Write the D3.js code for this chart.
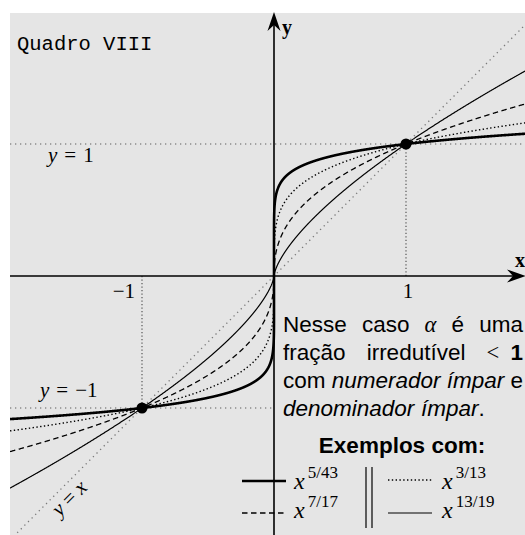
<!DOCTYPE html>
<html>
<head>
<meta charset="utf-8">
<script src="https://cdn.jsdelivr.net/npm/d3@7"></script>
<style>
  html, body { margin: 0; padding: 0; background: #ffffff; }
  svg { display: block; }
</style>
</head>
<body>
<svg id="chart" width="525" height="535"></svg>
<script>
// Odd roots x^(p/q) with p, q odd and p/q < 1
const numerators   = [5, 7, 3, 13];
const denominators = [43, 17, 13, 19];
const seriesStyle  = ["thick", "dashed", "dotted", "thin"];
const tickValues   = [-1, 1];
const tickLabels   = ["\u22121", "1"];
const guideLevels  = [1, -1];

const svg = d3.select("#chart");

// panel
const panel = { x0: 10, y0: 13, x1: 525, y1: 535 };
svg.append("rect")
  .attr("x", panel.x0).attr("y", panel.y0)
  .attr("width", panel.x1 - panel.x0).attr("height", panel.y1 - panel.y0)
  .attr("fill", "#e5e5e5");

svg.append("clipPath").attr("id", "clip")
  .append("rect")
  .attr("x", panel.x0).attr("y", panel.y0)
  .attr("width", panel.x1 - panel.x0).attr("height", panel.y1 - panel.y0);

const unit = 132;
const x = d3.scaleLinear().domain([-2, 2]).range([274 - 2 * unit, 274 + 2 * unit]);
const y = d3.scaleLinear().domain([-2, 2]).range([276 + 2 * unit, 276 - 2 * unit]);

const g = svg.append("g").attr("clip-path", "url(#clip)");

// guide lines
const guideColor = "#8a8a8a";
g.append("line")
  .attr("x1", x(-2)).attr("x2", x(2))
  .attr("y1", y(guideLevels[0])).attr("y2", y(guideLevels[0]))
  .attr("stroke", guideColor).attr("stroke-width", 1.3)
  .attr("stroke-dasharray", "1.3,3.7");
g.append("line")
  .attr("x1", x(-2)).attr("x2", x(0))
  .attr("y1", y(guideLevels[1])).attr("y2", y(guideLevels[1]))
  .attr("stroke", guideColor).attr("stroke-width", 1.3)
  .attr("stroke-dasharray", "1.3,3.7");
tickValues.forEach(v => {
  g.append("line")
    .attr("x1", x(v)).attr("x2", x(v))
    .attr("y1", y(0)).attr("y2", y(v))
    .attr("stroke", "#555").attr("stroke-width", 1.2)
    .attr("stroke-dasharray", "1.2,2.3");
});

// y = x
g.append("line")
  .attr("x1", x(-2)).attr("y1", y(-2))
  .attr("x2", x(2)).attr("y2", y(2))
  .attr("stroke", "#7a7a7a").attr("stroke-width", 1.3)
  .attr("stroke-dasharray", "1.3,3.8");

// sampled abscissae, dense near the origin
const uSteps = d3.range(0, 1.00001, 0.0004);
const xs = [];
uSteps.slice().reverse().forEach(u => xs.push(-2 * Math.pow(u, 6)));
uSteps.forEach(u => { if (u > 0) xs.push(2 * Math.pow(u, 6)); });

const oddRoot = (v, a) => Math.sign(v) * Math.pow(Math.abs(v), a);
const line = d3.line().x(d => x(d[0])).y(d => y(d[1]));

const styles = {
  thick:  { w: 2.6, dash: null },
  dashed: { w: 1.3, dash: "5.5,3.5" },
  dotted: { w: 1.4, dash: "1.4,2.4" },
  thin:   { w: 1.2, dash: null }
};

numerators.forEach((p, i) => {
  const a = p / denominators[i];
  const pts = xs.map(v => [v, oddRoot(v, a)]);
  const s = styles[seriesStyle[i]];
  g.append("path")
    .attr("d", line(pts))
    .attr("fill", "none")
    .attr("stroke", "#000")
    .attr("stroke-width", s.w)
    .attr("stroke-dasharray", s.dash);
});

// axes
const ax = svg.append("g");
ax.append("line")
  .attr("x1", panel.x0).attr("x2", 515)
  .attr("y1", y(0)).attr("y2", y(0))
  .attr("stroke", "#000").attr("stroke-width", 1.6);
ax.append("line")
  .attr("x1", x(0)).attr("x2", x(0))
  .attr("y1", panel.y1).attr("y2", 22)
  .attr("stroke", "#000").attr("stroke-width", 1.6);

// stealth arrowheads
function arrow(tx, ty, angle) {
  const L = 19, Wd = 6.5, back = 6;
  const path = `M0,0 L${-L},${-Wd} L${-L + back},0 L${-L},${Wd} Z`;
  ax.append("path")
    .attr("d", path)
    .attr("transform", `translate(${tx},${ty}) rotate(${angle})`)
    .attr("fill", "#000");
}
arrow(x(0), 12, -90);
arrow(526, y(0), 0);

// axis names
svg.append("text").attr("x", 282).attr("y", 34)
  .attr("font-family", "Liberation Serif").attr("font-weight", "bold")
  .attr("font-size", 20).text("y");
svg.append("text").attr("x", 515).attr("y", 267)
  .attr("font-family", "Liberation Serif").attr("font-weight", "bold")
  .attr("font-size", 20).text("x");

// tick labels
tickValues.forEach((v, i) => {
  svg.append("text")
    .attr("x", v < 0 ? x(v) - 7 : x(v) + 2)
    .attr("y", 298)
    .attr("text-anchor", v < 0 ? "end" : "middle")
    .attr("font-family", "Liberation Serif").attr("font-size", 21)
    .text(tickLabels[i]);
});

// intersection points
tickValues.forEach(v => {
  svg.append("circle").attr("cx", x(v)).attr("cy", y(v)).attr("r", 5.5).attr("fill", "#000");
});

// guide labels (math style, relation symbols with wide spacing)
function mathLabel(px, py, parts, size) {
  const t = svg.append("text").attr("x", px).attr("y", py)
    .attr("font-family", "Liberation Serif").attr("font-size", size);
  parts.forEach(pt => {
    const s = t.append("tspan").attr("font-style", pt.i ? "italic" : "normal").text(pt.t);
    if (pt.dx) s.attr("dx", pt.dx);
  });
  return t;
}
mathLabel(48, 162, [{ t: "y", i: true }, { t: "=", dx: 7 }, { t: "1", dx: 7 }], 21);
mathLabel(40, 397, [{ t: "y", i: true }, { t: "=", dx: 7 }, { t: "\u22121", dx: 7 }], 21);
mathLabel(0, 0, [{ t: "y", i: true }, { t: "=", dx: 5 }, { t: "x", i: true, dx: 5 }], 21)
  .attr("text-anchor", "middle")
  .attr("transform", "translate(74,503) rotate(-45)");

// title
svg.append("text").attr("x", 17).attr("y", 50)
  .attr("font-family", "Liberation Mono").attr("font-size", 20.5)
  .text("Quadro VIII");

// explanatory paragraph, justified between xl and xr
const sans = "Liberation Sans";
const fs = 22.5;
const xl = 283, xr = 523;
const para = [
  { y: 332, justify: true, words: [[{ t: "Nesse" }], [{ t: "caso" }], [{ t: "\u03b1", m: true }], [{ t: "é" }], [{ t: "uma" }]] },
  { y: 360, justify: true, words: [[{ t: "fração" }], [{ t: "irredutível" }], [{ t: "<", m: true }, { t: "\u2002" }, { t: "1", b: true }]] },
  { y: 388, justify: true, words: [[{ t: "com" }], [{ t: "numerador", i: true }], [{ t: "ímpar", i: true }], [{ t: "e" }]] },
  { y: 416, justify: false, words: [[{ t: "denominador", i: true }], [{ t: "ímpar", i: true }, { t: "." }]] }
];
para.forEach(ln => {
  const nodes = ln.words.map(w => {
    const t = svg.append("text").attr("y", ln.y).attr("font-size", fs).attr("font-family", sans);
    w.forEach(seg => {
      const s = t.append("tspan").text(seg.t);
      if (seg.i) s.attr("font-style", "italic");
      if (seg.b) s.attr("font-weight", "bold");
      if (seg.m) s.attr("font-family", "Liberation Serif").attr("font-style", seg.t === "<" ? "normal" : "italic");
    });
    return t;
  });
  const widths = nodes.map(n => n.node().getComputedTextLength());
  const total = d3.sum(widths);
  const gap = ln.justify ? (xr - xl - total) / (nodes.length - 1) : fs * 0.3;
  let cx = xl;
  nodes.forEach((n, k) => { n.attr("x", cx); cx += widths[k] + gap; });
});

svg.append("text").attr("x", 402).attr("y", 453)
  .attr("text-anchor", "middle")
  .attr("font-family", sans).attr("font-weight", "bold").attr("font-size", fs)
  .text("Exemplos com:");

// legend
const legendPos = [
  { lx: 242, ly: 481, tx: 294, ty: 489 },
  { lx: 242, ly: 513, tx: 294, ty: 518 },
  { lx: 388, ly: 480, tx: 442, ty: 489 },
  { lx: 388, ly: 513, tx: 442, ty: 518 }
];
numerators.forEach((p, i) => {
  const s = styles[seriesStyle[i]];
  const pos = legendPos[i];
  svg.append("line")
    .attr("x1", pos.lx).attr("x2", pos.lx + 44)
    .attr("y1", pos.ly).attr("y2", pos.ly)
    .attr("stroke", "#000").attr("stroke-width", s.w)
    .attr("stroke-dasharray", s.dash);
  const t = svg.append("text").attr("x", pos.tx).attr("y", pos.ty)
    .attr("font-family", "Liberation Serif").attr("font-size", 24);
  t.append("tspan").attr("font-style", "italic").text("x");
  t.append("tspan").attr("dy", -11).attr("dx", 3).attr("font-size", 17)
    .text(`${p}/${denominators[i]}`);
});
[366, 372].forEach(bx => {
  svg.append("line").attr("x1", bx).attr("x2", bx).attr("y1", 467).attr("y2", 528)
    .attr("stroke", "#000").attr("stroke-width", 1.2);
});
</script>
</body>
</html>
